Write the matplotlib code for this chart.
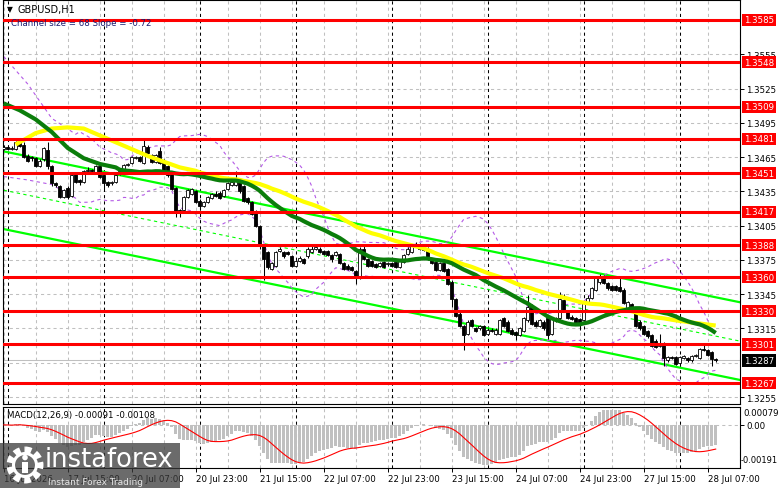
import matplotlib
matplotlib.use("Agg")
import matplotlib.pyplot as plt
from matplotlib.patches import Circle, Rectangle
import matplotlib.transforms as mtransforms
import pandas as pd

plt.rcParams['font.family'] = ['DejaVu Sans']

# GBPUSD H1 bars, 16 Jul 2026 23:00 .. 28 Jul 2026 09:00 (weekend skipped)
trading_days = ["2026-07-17", "2026-07-20", "2026-07-21", "2026-07-22",
                "2026-07-23", "2026-07-24", "2026-07-27"]
bar_times = [pd.Timestamp("2026-07-16 23:00")]
for d in trading_days:
    bar_times += list(pd.date_range(d, periods=24, freq="h"))
bar_times += list(pd.date_range("2026-07-28", periods=10, freq="h"))

opens = [1.3472, 1.3474, 1.3472, 1.3472, 1.3478, 1.3476, 1.3466, 1.3465, 1.3464, 1.3457,
         1.3463, 1.3471, 1.3457, 1.3442, 1.3440, 1.3430, 1.3438, 1.3431, 1.3450, 1.3445,
         1.3443, 1.3453, 1.3454, 1.3452, 1.3457, 1.3449, 1.3443, 1.3442, 1.3443, 1.3450,
         1.3452, 1.3458, 1.3460, 1.3464, 1.3465, 1.3460, 1.3474, 1.3467, 1.3461, 1.3470,
         1.3462, 1.3457, 1.3451, 1.3438, 1.3419, 1.3419, 1.3430, 1.3433, 1.3435, 1.3427,
         1.3422, 1.3426, 1.3429, 1.3433, 1.3434, 1.3431, 1.3437, 1.3441, 1.3441, 1.3446,
         1.3440, 1.3429, 1.3426, 1.3418, 1.3405, 1.3387, 1.3382, 1.3367, 1.3370, 1.3383,
         1.3382, 1.3382, 1.3378, 1.3370, 1.3374, 1.3376, 1.3378, 1.3382, 1.3385, 1.3385,
         1.3383, 1.3383, 1.3379, 1.3379, 1.3380, 1.3372, 1.3370, 1.3369, 1.3365, 1.3359,
         1.3385, 1.3376, 1.3374, 1.3371, 1.3370, 1.3373, 1.3371, 1.3372, 1.3373, 1.3369,
         1.3373, 1.3380, 1.3382, 1.3387, 1.3387, 1.3387, 1.3385, 1.3376, 1.3373, 1.3366,
         1.3372, 1.3367, 1.3356, 1.3341, 1.3328, 1.3317, 1.3310, 1.3322, 1.3315, 1.3315,
         1.3317, 1.3310, 1.3314, 1.3310, 1.3310, 1.3324, 1.3321, 1.3314, 1.3312, 1.3309,
         1.3313, 1.3322, 1.3335, 1.3321, 1.3317, 1.3321, 1.3324, 1.3310, 1.3324, 1.3324,
         1.3340, 1.3330, 1.3325, 1.3324, 1.3323, 1.3322, 1.3337, 1.3342, 1.3349, 1.3356,
         1.3361, 1.3355, 1.3352, 1.3352, 1.3351, 1.3349, 1.3333, 1.3336, 1.3330, 1.3321,
         1.3317, 1.3313, 1.3309, 1.3304, 1.3300, 1.3302, 1.3287, 1.3290, 1.3290, 1.3285,
         1.3289, 1.3289, 1.3287, 1.3291, 1.3289, 1.3297, 1.3296, 1.3294, 1.3288]
highs = [1.3476, 1.3475, 1.3475, 1.3479, 1.3479, 1.3478, 1.3468, 1.3466, 1.3465, 1.3463,
         1.3474, 1.3478, 1.3458, 1.3443, 1.3441, 1.3437, 1.3440, 1.3450, 1.3451, 1.3446,
         1.3454, 1.3456, 1.3455, 1.3458, 1.3458, 1.3450, 1.3444, 1.3444, 1.3450, 1.3454,
         1.3459, 1.3460, 1.3466, 1.3466, 1.3466, 1.3480, 1.3476, 1.3468, 1.3468, 1.3474,
         1.3463, 1.3458, 1.3452, 1.3439, 1.3420, 1.3431, 1.3437, 1.3438, 1.3436, 1.3428,
         1.3427, 1.3431, 1.3434, 1.3435, 1.3435, 1.3437, 1.3443, 1.3444, 1.3453, 1.3447,
         1.3441, 1.3430, 1.3427, 1.3419, 1.3406, 1.3388, 1.3383, 1.3373, 1.3383, 1.3386,
         1.3383, 1.3383, 1.3379, 1.3375, 1.3378, 1.3377, 1.3386, 1.3387, 1.3388, 1.3386,
         1.3384, 1.3384, 1.3380, 1.3383, 1.3381, 1.3373, 1.3371, 1.3370, 1.3366, 1.3386,
         1.3389, 1.3377, 1.3375, 1.3372, 1.3373, 1.3374, 1.3373, 1.3373, 1.3374, 1.3375,
         1.3380, 1.3386, 1.3389, 1.3391, 1.3390, 1.3388, 1.3386, 1.3377, 1.3374, 1.3373,
         1.3373, 1.3368, 1.3357, 1.3342, 1.3329, 1.3318, 1.3322, 1.3323, 1.3316, 1.3318,
         1.3318, 1.3315, 1.3315, 1.3315, 1.3323, 1.3325, 1.3322, 1.3315, 1.3313, 1.3316,
         1.3325, 1.3344, 1.3336, 1.3322, 1.3323, 1.3322, 1.3325, 1.3325, 1.3325, 1.3347,
         1.3345, 1.3331, 1.3327, 1.3325, 1.3324, 1.3338, 1.3344, 1.3351, 1.3360, 1.3363,
         1.3362, 1.3356, 1.3353, 1.3353, 1.3359, 1.3350, 1.3339, 1.3337, 1.3331, 1.3322,
         1.3318, 1.3314, 1.3310, 1.3306, 1.3310, 1.3303, 1.3291, 1.3291, 1.3291, 1.3291,
         1.3292, 1.3290, 1.3292, 1.3293, 1.3298, 1.3302, 1.3297, 1.3295, 1.3289]
lows = [1.3471, 1.3471, 1.3471, 1.3471, 1.3474, 1.3464, 1.3461, 1.3462, 1.3456, 1.3456,
        1.3462, 1.3455, 1.3440, 1.3439, 1.3429, 1.3429, 1.3428, 1.3430, 1.3442, 1.3441,
        1.3442, 1.3452, 1.3451, 1.3451, 1.3447, 1.3437, 1.3439, 1.3441, 1.3442, 1.3449,
        1.3451, 1.3457, 1.3459, 1.3463, 1.3461, 1.3459, 1.3468, 1.3460, 1.3460, 1.3459,
        1.3452, 1.3448, 1.3436, 1.3413, 1.3413, 1.3418, 1.3429, 1.3432, 1.3425, 1.3420,
        1.3421, 1.3425, 1.3428, 1.3430, 1.3428, 1.3430, 1.3436, 1.3440, 1.3440, 1.3434,
        1.3426, 1.3424, 1.3414, 1.3404, 1.3385, 1.3357, 1.3367, 1.3366, 1.3369, 1.3382,
        1.3377, 1.3379, 1.3369, 1.3369, 1.3373, 1.3371, 1.3377, 1.3381, 1.3384, 1.3381,
        1.3379, 1.3378, 1.3373, 1.3378, 1.3371, 1.3366, 1.3366, 1.3365, 1.3354, 1.3358,
        1.3375, 1.3369, 1.3369, 1.3368, 1.3369, 1.3368, 1.3370, 1.3369, 1.3368, 1.3368,
        1.3372, 1.3379, 1.3381, 1.3386, 1.3384, 1.3383, 1.3375, 1.3371, 1.3365, 1.3365,
        1.3364, 1.3353, 1.3334, 1.3325, 1.3316, 1.3296, 1.3309, 1.3316, 1.3312, 1.3314,
        1.3308, 1.3309, 1.3312, 1.3309, 1.3309, 1.3316, 1.3312, 1.3309, 1.3305, 1.3308,
        1.3312, 1.3321, 1.3318, 1.3316, 1.3316, 1.3314, 1.3306, 1.3309, 1.3321, 1.3322,
        1.3329, 1.3323, 1.3322, 1.3319, 1.3314, 1.3321, 1.3336, 1.3341, 1.3348, 1.3354,
        1.3354, 1.3349, 1.3348, 1.3348, 1.3347, 1.3336, 1.3332, 1.3330, 1.3316, 1.3314,
        1.3309, 1.3307, 1.3299, 1.3298, 1.3299, 1.3282, 1.3286, 1.3288, 1.3283, 1.3284,
        1.3288, 1.3286, 1.3286, 1.3290, 1.3288, 1.3295, 1.3291, 1.3282, 1.3286]
closes = [1.3474, 1.3472, 1.3473, 1.3478, 1.3475, 1.3465, 1.3462, 1.3464, 1.3457, 1.3462,
          1.3473, 1.3457, 1.3442, 1.3441, 1.3430, 1.3436, 1.3430, 1.3449, 1.3443, 1.3443,
          1.3453, 1.3454, 1.3453, 1.3457, 1.3448, 1.3442, 1.3441, 1.3443, 1.3449, 1.3453,
          1.3458, 1.3459, 1.3465, 1.3465, 1.3462, 1.3475, 1.3469, 1.3461, 1.3467, 1.3460,
          1.3453, 1.3449, 1.3437, 1.3417, 1.3416, 1.3430, 1.3436, 1.3437, 1.3426, 1.3422,
          1.3426, 1.3430, 1.3433, 1.3431, 1.3429, 1.3436, 1.3442, 1.3443, 1.3447, 1.3435,
          1.3427, 1.3426, 1.3415, 1.3405, 1.3387, 1.3376, 1.3369, 1.3372, 1.3382, 1.3385,
          1.3378, 1.3380, 1.3370, 1.3374, 1.3377, 1.3372, 1.3385, 1.3385, 1.3386, 1.3382,
          1.3380, 1.3379, 1.3376, 1.3382, 1.3372, 1.3367, 1.3367, 1.3366, 1.3359, 1.3385,
          1.3376, 1.3370, 1.3370, 1.3369, 1.3372, 1.3369, 1.3372, 1.3370, 1.3369, 1.3374,
          1.3379, 1.3385, 1.3388, 1.3389, 1.3385, 1.3384, 1.3376, 1.3372, 1.3366, 1.3372,
          1.3365, 1.3354, 1.3341, 1.3326, 1.3317, 1.3309, 1.3321, 1.3317, 1.3313, 1.3317,
          1.3309, 1.3314, 1.3313, 1.3314, 1.3322, 1.3317, 1.3313, 1.3310, 1.3309, 1.3315,
          1.3324, 1.3334, 1.3319, 1.3317, 1.3322, 1.3315, 1.3309, 1.3324, 1.3322, 1.3341,
          1.3330, 1.3324, 1.3323, 1.3320, 1.3320, 1.3337, 1.3342, 1.3350, 1.3359, 1.3361,
          1.3355, 1.3350, 1.3349, 1.3349, 1.3348, 1.3337, 1.3338, 1.3331, 1.3317, 1.3315,
          1.3310, 1.3308, 1.3300, 1.3299, 1.3302, 1.3289, 1.3290, 1.3289, 1.3284, 1.3290,
          1.3291, 1.3287, 1.3291, 1.3292, 1.3297, 1.3296, 1.3292, 1.3288, 1.3287]

# indicator values before enough bars are on screen
ma30_head_bars = [0, 4, 8, 12, 16, 20, 24, 28]
ma30_head = [1.3512, 1.3506, 1.3498, 1.3487, 1.3473, 1.3464, 1.3459, 1.3456]
ma50_head_bars = [3, 8, 12, 16, 20, 24, 28, 32, 36, 40, 44, 48]
ma50_head = [1.3476, 1.3486, 1.3490, 1.3491, 1.3490, 1.3484, 1.3478, 1.3472,
             1.3466, 1.3461, 1.3456, 1.3453]
bb_head_bars = [0, 6, 12, 18]
bb_head_upper = [1.3553, 1.3529, 1.3499, 1.3485]
bb_head_lower = [1.3448, 1.3445, 1.3441, 1.3429]

# regression channel: "Channel size = 68 Slope = -0.72"
channel_bars = [0, 184]
channel_top = [1.3470, 1.3338]
channel_size = 0.0068

red_levels = [1.3585, 1.3548, 1.3509, 1.3481, 1.3451, 1.3417,
              1.3388, 1.3360, 1.3330, 1.3301, 1.3267]
price_grid = [1.3255, 1.3285, 1.3315, 1.3345, 1.3375, 1.3405,
              1.3435, 1.3465, 1.3495, 1.3525, 1.3555, 1.3585]
price_labels = [1.3255, 1.3315, 1.3345, 1.3375, 1.3405,
                1.3435, 1.3465, 1.3495, 1.3525, 1.3555]
last_price = 1.3287
macd_top, macd_bottom = 0.00079, -0.00191

# ---------------------------------------------------------------
n = len(closes)
bars = list(range(n))
cs = pd.Series(closes)

ma30 = cs.rolling(30).mean()
ma50 = cs.rolling(50).mean()
bb_mid = cs.rolling(20).mean()
bb_sd = cs.rolling(20).std(ddof=0)
bb_up = bb_mid + 2 * bb_sd
bb_lo = bb_mid - 2 * bb_sd

macd = cs.ewm(span=12, adjust=False).mean() - cs.ewm(span=26, adjust=False).mean()
signal = macd.rolling(9, min_periods=1).mean()

W, H = 781, 489
fig = plt.figure(figsize=(W / 100, H / 100), dpi=100)


def px_axes(x0, y0, x1, y1):
    return fig.add_axes([x0 / W, 1 - y1 / H, (x1 - x0) / W, (y1 - y0) / H])


def fig_text(x, y, s, **kw):
    fig.text(x / W, 1 - y / H, s, **kw)


ax = px_axes(3, 1, 740, 405)
axm = px_axes(3, 408, 740, 469)
xlim = (-0.175, 184.075)

grid_kw = dict(color='#c0c0c0', lw=0.75, ls=(0, (3, 3)), zorder=1)
sep_kw = dict(color='black', lw=0.75, ls=(0, (3, 3)), zorder=1.5)

for a in (ax, axm):
    a.set_xlim(*xlim)
    for s in a.spines.values():
        s.set_linewidth(0.8)
    for b in range(0, 185, 8):
        a.axvline(b, **grid_kw)
    for i, t in enumerate(bar_times):
        if t.hour == 0:
            a.axvline(i, **sep_kw)

# ----- main price panel
ax.set_ylim(1.32489, 1.36025)
for lv in price_grid:
    ax.axhline(lv, **grid_kw)
ax.axhline(last_price, color='#c0c0c0', lw=0.75, zorder=1.2)

ax.set_xticks([])
ax.set_yticks(price_labels)
ax.set_yticklabels([f"{v:.4f}" for v in price_labels])
ax.yaxis.tick_right()
ax.tick_params(axis='y', length=3, width=0.7, pad=1.5, labelsize=6.2)

# regression channel
ch_lower = [v - channel_size for v in channel_top]
ch_mid = [v - channel_size / 2 for v in channel_top]
ax.plot(channel_bars, channel_top, color='#00ff00', lw=1.6, zorder=2)
ax.plot(channel_bars, ch_lower, color='#00ff00', lw=1.6, zorder=2)
ax.plot(channel_bars, ch_mid, color='#00ff00', lw=0.8, ls=(0, (3, 3)), zorder=2)

# bollinger bands
band_kw = dict(color='#b45ae6', lw=0.8, ls=(0, (3, 3)), zorder=2.2)
ax.plot(bb_head_bars + bars[19:], bb_head_upper + list(bb_up[19:]), **band_kw)
ax.plot(bb_head_bars + bars[19:], bb_head_lower + list(bb_lo[19:]), **band_kw)

# candles
body_low = [min(o, c) for o, c in zip(opens, closes)]
body_h = [max(abs(c - o), 0.000005) for o, c in zip(opens, closes)]
faces = ['white' if c > o else 'black' for o, c in zip(opens, closes)]
ax.vlines(bars, lows, highs, color='black', lw=0.75, zorder=3)
ax.bar(bars, body_h, bottom=body_low, width=0.62, color=faces,
       edgecolor='black', linewidth=0.6, zorder=3.2)

# moving averages
ax.plot(ma50_head_bars + bars[49:], ma50_head + list(ma50[49:]),
        color='#ffff00', lw=3, solid_capstyle='butt', zorder=4)
ax.plot(ma30_head_bars + bars[29:], ma30_head + list(ma30[29:]),
        color='#0b7d0b', lw=3, solid_capstyle='butt', zorder=4.1)

for lv in red_levels:
    ax.axhline(lv, color='#ff0000', lw=2.2, zorder=4.5)

lab_x = (744 - 3) / 737
tr = mtransforms.blended_transform_factory(ax.transAxes, ax.transData)
for lv in red_levels:
    ax.text(lab_x, lv, f"{lv:.4f}", transform=tr, ha='left', va='center',
            fontsize=6.2, color='white', clip_on=False, zorder=10,
            bbox=dict(boxstyle='square,pad=0.18', fc='#ff0000', ec='none'))
ax.text(lab_x, last_price, f"{last_price:.4f}", transform=tr, ha='left',
        va='center', fontsize=6.2, color='white', clip_on=False, zorder=10,
        bbox=dict(boxstyle='square,pad=0.18', fc='black', ec='none'))

# ----- MACD panel (window scale runs from the minimum to the maximum label)
axm.set_ylim(macd_bottom, macd_top)
axm.axhline(0, **grid_kw)
axm.bar(bars, macd, width=0.7, color='#c0c0c0', zorder=2)
axm.plot(bars, signal, color='#ff0000', lw=0.8, zorder=3)
axm.yaxis.tick_right()
axm.set_yticks([0.0])
axm.set_yticklabels(["0.00"])
axm.tick_params(axis='y', length=3, width=0.7, pad=1.5, labelsize=6.2)
mx = (743 - 3) / 737
axm.text(mx, 1 - 6 / 61, f"{macd_top:.5f}", transform=axm.transAxes,
         ha='left', va='center', fontsize=6.2, clip_on=False)
axm.text(mx - 2 / 737, 8 / 61, f"{macd_bottom:.5f}", transform=axm.transAxes,
         ha='left', va='center', fontsize=6.0, clip_on=False)

label_bars = list(range(0, n, 16))
labels = []
for i in label_bars:
    t = bar_times[i]
    labels.append(t.strftime("%d %b %Y") if i == 0 else t.strftime("%d %b %H:%M"))
axm.set_xticks(label_bars)
axm.set_xticklabels(labels, ha='left')
axm.tick_params(axis='x', length=3, width=0.7, pad=1.5, labelsize=6.2)

# ----- header texts
fig_text(6.5, 10, '\u25bc', fontsize=5.5, va='center', ha='left')
fig_text(17, 10.5, 'GBPUSD,H1', fontsize=7, va='center', ha='left')
fig_text(11, 24, 'Channel size = 68 Slope = -0.72', fontsize=6.2, color='#1a1a70',
         va='center', ha='left')
fig_text(7, 416, 'MACD(12,26,9) -0.00091 -0.00108', fontsize=6.2, va='center', ha='left')

# ----- instaforex watermark
logo = px_axes(0, 444, 180, 489)
logo.set_xlim(0, 180)
logo.set_ylim(45, 0)
logo.axis('off')
logo.add_patch(Rectangle((0, 0), 180, 45, facecolor='#3a3a3a', alpha=0.75, lw=0))
logo.add_patch(Circle((25, 22), 15, fill=False, ec='white', lw=5,
                      ls=(0, (0.9, 0.6))))
logo.add_patch(Circle((25, 22), 11.5, fill=False, ec='white', lw=2.2))
logo.add_patch(Circle((25, 14.5), 2.8, fc='white', ec='none'))
logo.add_patch(Rectangle((22.3, 18.5), 5.4, 11, fc='white', ec='none'))
logo.text(45, 23, 'instaforex', fontsize=18.5, color='white', va='baseline', ha='left')
logo.text(48, 41, 'Instant Forex Trading', fontsize=6.5, color='#e6e6e6',
          va='baseline', ha='left')

fig.savefig('out.png', dpi=100)
